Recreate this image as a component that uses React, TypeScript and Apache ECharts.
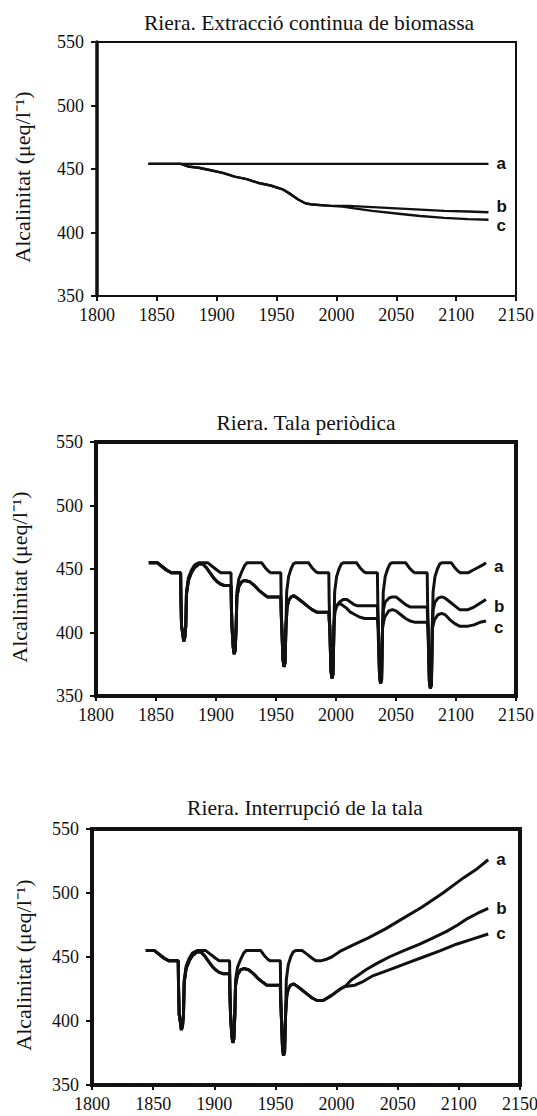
import React, { useEffect, useRef } from 'react';
import * as echarts from 'echarts';

// ---------- Titles / labels ----------
const titles = [
  'Riera. Extracció continua de biomassa',
  'Riera. Tala periòdica',
  'Riera. Interrupció de la tala',
];
const yName = 'Alcalinitat (μeq/l⁻¹)';
const seriesNames = ['a', 'b', 'c'];
const xTicks = [1800, 1850, 1900, 1950, 2000, 2050, 2100, 2150];
const yTicks = [350, 400, 450, 500, 550];

// ---------- Chart 1: continuous biomass extraction ----------
const c1a = [[1843, 454], [2127, 454]];
const c1b = [
  [1843, 454], [1870, 454], [1876, 452], [1885, 451], [1895, 449], [1905, 447], [1915, 444],
  [1925, 442], [1935, 439], [1945, 437], [1955, 434], [1962, 430], [1968, 426], [1974, 423],
  [1980, 422], [1995, 421], [2010, 421], [2030, 420], [2050, 419], [2070, 418], [2090, 417],
  [2110, 416.5], [2127, 416],
];
const c1c = [
  [1843, 454], [1870, 454], [1876, 452], [1885, 451], [1895, 449], [1905, 447], [1915, 444],
  [1925, 442], [1935, 439], [1945, 437], [1955, 434], [1962, 430], [1968, 426], [1974, 423],
  [1980, 422], [1995, 421], [2005, 420.5], [2015, 419], [2030, 417], [2050, 415], [2070, 413],
  [2090, 411.5], [2110, 410.5], [2127, 410],
];

// ---------- Shared history (cuts 1871, 1913, 1954.5) ----------
const preA = [
  [1844, 455], [1851, 455], [1855, 452], [1859, 449], [1863, 447], [1870.5, 447],
  [1870.8, 425], [1871.3, 405], [1872.3, 399], [1873.1, 393], [1874, 396], [1874.8, 405],
  [1875.4, 432], [1877, 443], [1879.5, 449], [1882, 453], [1886, 455], [1893, 455], [1897, 452],
  [1901, 449], [1904, 447], [1912.5, 447],
  [1912.8, 425], [1913.3, 405], [1914.3, 389], [1915.1, 383], [1916, 386], [1916.8, 405],
  [1917.4, 432], [1919, 442], [1921.5, 448], [1924, 453], [1926, 455], [1938, 455], [1941, 451],
  [1944, 448], [1946, 447], [1954, 447],
  [1954.3, 425], [1954.8, 405], [1955.8, 379], [1956.6, 373], [1957.5, 376], [1958.3, 405],
  [1958.9, 432],
];
const preB = [
  [1844, 455], [1851, 455], [1855, 452], [1859, 449], [1863, 447], [1870.5, 447],
  [1870.8, 425], [1871.3, 405], [1872.3, 399], [1873.1, 393], [1874, 396], [1874.8, 405],
  [1875.4, 430], [1877, 441], [1879.5, 447], [1882, 451], [1886, 454], [1889, 454], [1892, 451],
  [1895, 447], [1898, 443], [1901, 440], [1904, 438], [1907, 437], [1912.5, 437],
  [1912.8, 420], [1913.3, 405], [1914.3, 389], [1915.1, 383], [1916, 386], [1916.8, 405],
  [1917.4, 428], [1919, 436], [1921.5, 440], [1924, 441], [1928, 440], [1932, 437], [1936, 433],
  [1940, 430], [1943, 428], [1954, 428],
  [1954.3, 415], [1954.8, 405], [1955.8, 379], [1956.6, 373], [1957.5, 376], [1958.3, 405],
];

// ---------- Chart 2: periodic felling (cuts 1994.5, 2035, 2076.5) ----------
const tail2A = [
  [1960.5, 444], [1962.5, 450], [1964.5, 454], [1966.5, 455], [1977, 455], [1980, 451],
  [1983, 448], [1985, 447], [1994, 447],
  [1994.3, 425], [1994.8, 405], [1995.8, 370], [1996.6, 364], [1997.5, 367], [1998.3, 405],
  [1998.9, 432],
  [2000.5, 444], [2002.5, 450], [2004.5, 454], [2006.5, 455], [2017, 455], [2020, 451],
  [2023, 448], [2025, 447], [2034.5, 447],
  [2034.8, 425], [2035.3, 405], [2036.3, 366], [2037.1, 360], [2038, 363], [2038.8, 405],
  [2039.4, 432],
  [2041, 444], [2043, 450], [2045, 454], [2047, 455], [2058, 455], [2061, 451],
  [2064, 448], [2066, 447], [2076, 447],
  [2076.3, 425], [2076.8, 405], [2077.8, 362], [2078.6, 356], [2079.5, 359], [2080.3, 405],
  [2080.9, 432],
  [2082.5, 444], [2084.5, 450], [2086.5, 454], [2088.5, 455], [2096, 455], [2099, 451],
  [2102, 448], [2104, 447], [2110, 447], [2114, 449], [2118, 451], [2122, 453], [2125, 455],
];
const tail2B = [
  [1959.3, 420], [1960.5, 425], [1962.5, 428], [1965, 429], [1968, 427], [1972, 424],
  [1976, 421], [1980, 418], [1984, 416], [1994, 416],
  [1994.3, 410], [1994.8, 405], [1995.8, 370], [1996.6, 364], [1997.5, 367], [1998.3, 405],
  [1999, 416], [2000.5, 421], [2003, 424], [2006, 426], [2009, 426], [2012, 424], [2015, 422],
  [2018, 421], [2034.5, 421],
  [2034.8, 412], [2035.3, 405], [2036.3, 366], [2037.1, 360], [2038, 363], [2038.8, 405],
  [2039.5, 418], [2041, 424], [2044, 427], [2047, 428], [2050, 428], [2054, 425], [2058, 422],
  [2062, 420], [2076, 420],
  [2076.3, 412], [2076.8, 405], [2077.8, 362], [2078.6, 356], [2079.5, 359], [2080.3, 405],
  [2081, 418], [2082.5, 424], [2085, 427], [2088, 428], [2091, 427], [2095, 424], [2099, 421],
  [2103, 418], [2110, 418], [2115, 420], [2120, 423], [2125, 426],
];
const tail2C = [
  [1959.3, 420], [1960.5, 425], [1962.5, 428], [1965, 429], [1968, 427], [1972, 424],
  [1976, 421], [1980, 418], [1984, 416], [1994, 416],
  [1994.3, 410], [1994.8, 405], [1995.8, 370], [1996.6, 364], [1997.5, 367], [1998.3, 405],
  [1999, 416], [2000.5, 421], [2003, 423], [2006, 421], [2009, 419], [2012, 416], [2016, 414],
  [2020, 412], [2024, 411], [2034.5, 411],
  [2035, 404], [2036.3, 366], [2037.1, 360], [2038, 363], [2038.8, 404],
  [2040.5, 412], [2044, 417], [2047, 418], [2050, 417], [2054, 414], [2058, 411], [2062, 409],
  [2066, 408], [2076, 408],
  [2076.6, 403], [2077.8, 362], [2078.6, 356], [2079.5, 359], [2080.3, 403],
  [2082, 410], [2085, 414], [2088, 415], [2091, 414], [2095, 410], [2099, 407], [2103, 405],
  [2110, 405], [2115, 406], [2120, 408], [2125, 409],
];

// ---------- Chart 3: felling interrupted ----------
const tail3A = [
  [1960.5, 444], [1962.5, 450], [1964.5, 454], [1966.5, 455], [1972, 455], [1976, 452],
  [1980, 449], [1983, 447], [1987, 447], [1991, 448], [1996, 450], [2004, 455], [2015, 460],
  [2026, 465], [2040, 472], [2054, 480], [2070, 489], [2087, 500], [2104, 512], [2115, 519],
  [2124, 526],
];
const tail3B = [
  [1959.3, 420], [1960.5, 425], [1962.5, 428], [1965, 429], [1968, 427], [1972, 424],
  [1976, 421], [1980, 418], [1984, 416], [1989, 416], [1996, 420], [2003, 425], [2007, 427],
  [2012, 432], [2018, 436], [2024, 440], [2033, 445], [2043, 450], [2055, 455], [2068, 460],
  [2079, 465], [2090, 470], [2099, 475], [2107, 480], [2115, 484], [2124, 488],
];
const tail3C = [
  [1959.3, 420], [1960.5, 425], [1962.5, 428], [1965, 429], [1968, 427], [1972, 424],
  [1976, 421], [1980, 418], [1984, 416], [1989, 416], [1996, 420], [2003, 425], [2007, 427],
  [2015, 428], [2022, 431], [2029, 435], [2043, 440], [2057, 445], [2071, 450], [2085, 455],
  [2098, 460], [2111, 464], [2124, 468],
];

const chartData = [
  [c1a, c1b, c1c],
  [[...preA, ...tail2A], [...preB, ...tail2B], [...preB, ...tail2C]],
  [[...preA, ...tail3A], [...preB, ...tail3B], [...preB, ...tail3C]],
];

// ---------- Layout / style ----------
const SERIF = 'Liberation Serif';
const SANS = 'Liberation Sans';
const INK = '#111';
const grids = [
  { left: 97, top: 42, width: 419, height: 254, borderWidth: 2 },
  { left: 96, top: 442, width: 420, height: 254, borderWidth: 4 },
  { left: 92, top: 829, width: 428, height: 256, borderWidth: 4 },
];
const titlePos = [[309, 23], [306, 423], [305, 808]];
const nameOffsetX = [75, 77, 69];
const lineWidths = [2.4, 3, 3];
const labelOffsets = [
  [[0, 0], [0, -6], [0, 6]],
  [[0, 4], [0, 7], [0, 6]],
  [[0, 0], [0, 0], [0, 0]],
];

function buildOption() {
  const grid = grids.map((g) => ({
    left: g.left, top: g.top, width: g.width, height: g.height,
    show: true, borderColor: INK, borderWidth: g.borderWidth, backgroundColor: 'transparent',
  }));
  const xAxis = grids.map((_, i) => ({
    type: 'value', gridIndex: i, min: 1800, max: 2150, interval: 50,
    axisLine: { show: false },
    axisTick: { show: true, inside: false, length: 5, lineStyle: { color: INK, width: 2 } },
    splitLine: { show: false },
    axisLabel: { show: false },
  }));
  const yAxis = grids.map((_, i) => ({
    type: 'value', gridIndex: i, min: 350, max: 550, interval: 50,
    axisLine: { show: i === 0, lineStyle: { color: INK, width: 3.5 } },
    axisTick: { show: true, inside: false, length: 6, lineStyle: { color: INK, width: 2 } },
    splitLine: { show: false },
    axisLabel: { show: false },
  }));
  const series: any[] = [];
  chartData.forEach((group, gi) => {
    group.forEach((data, si) => {
      series.push({
        type: 'line', name: `${gi}-${seriesNames[si]}`,
        xAxisIndex: gi, yAxisIndex: gi, data, symbol: 'none', silent: true,
        lineStyle: { color: INK, width: lineWidths[gi] },
        endLabel: {
          show: true, formatter: seriesNames[si], color: INK, fontSize: 17,
          fontWeight: 'bold', fontFamily: SANS,
          distance: 8, offset: labelOffsets[gi][si],
        },
      });
    });
  });
  return { animation: false, backgroundColor: '#fff', grid, xAxis, yAxis, series };
}

// Serif texts (titles, tick labels, axis names) placed through the axes' own scales
function buildTextGraphics(chart: any) {
  const els: any[] = [];
  const txt = (text: string, x: number, y: number, size: number, align: string, va: string, rotation = 0) => ({
    type: 'text', x, y, rotation, silent: true,
    style: { text, align, verticalAlign: va, fontSize: size, fontFamily: SERIF, fill: INK },
  });
  grids.forEach((_, i) => {
    const left = chart.convertToPixel({ xAxisIndex: i }, xTicks[0]);
    const bottom = chart.convertToPixel({ yAxisIndex: i }, yTicks[0]);
    const top = chart.convertToPixel({ yAxisIndex: i }, yTicks[yTicks.length - 1]);
    xTicks.forEach((v) => {
      const px = chart.convertToPixel({ xAxisIndex: i }, v);
      els.push(txt(String(v), px, bottom + 10, 18, 'center', 'top'));
    });
    yTicks.forEach((v) => {
      const py = chart.convertToPixel({ yAxisIndex: i }, v);
      els.push(txt(String(v), left - 13, py, 18, 'right', 'middle'));
    });
    els.push(txt(yName, left - nameOffsetX[i], (top + bottom) / 2 + 8, 22, 'center', 'middle', Math.PI / 2));
    els.push(txt(titles[i], titlePos[i][0], titlePos[i][1], 21.5, 'center', 'middle'));
  });
  return els;
}

export default function App() {
  const ref = useRef<HTMLDivElement>(null);
  useEffect(() => {
    if (!ref.current) return;
    const chart = echarts.init(ref.current, null, { renderer: 'svg' });
    chart.setOption(buildOption() as any);
    chart.setOption({ graphic: buildTextGraphics(chart) } as any);
    return () => chart.dispose();
  }, []);
  return (
    <div
      ref={ref}
      style={{ position: 'absolute', left: 0, top: 0, width: 537, height: 1116, background: '#fff' }}
    />
  );
}
